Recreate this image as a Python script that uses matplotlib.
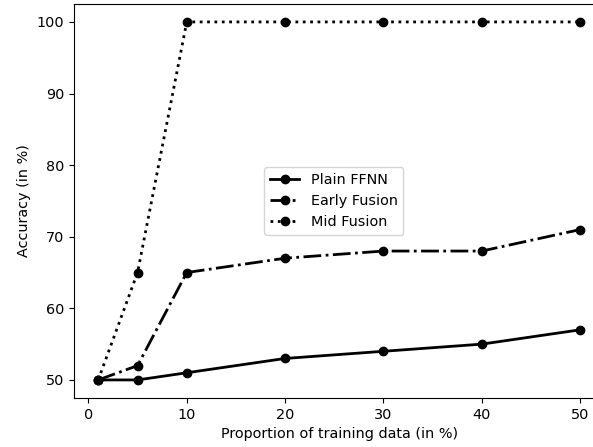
import matplotlib
matplotlib.use("Agg")
import matplotlib.pyplot as plt

# proportion of training data (in %)
x = [1, 5, 10, 20, 30, 40, 50]

# accuracy (in %) for each model
plain_ffnn = [50, 50, 51, 53, 54, 55, 57]
early_fusion = [50, 52, 65, 67, 68, 68, 71]
mid_fusion = [50, 65, 100, 100, 100, 100, 100]

plt.rcParams['font.size'] = 10.4

fig = plt.figure(figsize=(5.93, 4.47), dpi=100)
ax = fig.add_axes([0.125, 0.11, 0.894, 0.881])
# the original picture is cropped just before the right spine
ax.spines['right'].set_visible(False)

ax.plot(x, plain_ffnn, color='black', linestyle='-', marker='o', linewidth=2, label='Plain FFNN')
ax.plot(x, early_fusion, color='black', linestyle='-.', marker='o', linewidth=2, label='Early Fusion')
ax.plot(x, mid_fusion, color='black', linestyle=':', marker='o', linewidth=2, label='Mid Fusion')

ax.set_xlabel('Proportion of training data (in %)')
ax.set_ylabel('Accuracy (in %)')
ax.legend(loc='center', bbox_to_anchor=(0.49, 0.5))

fig.savefig("out.png", dpi=100)
